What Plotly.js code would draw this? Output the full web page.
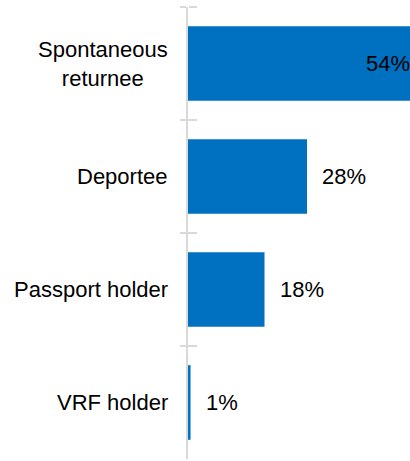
<!DOCTYPE html>
<html>
<head>
<meta charset="utf-8">
<script src="https://cdn.plot.ly/plotly-3.0.1.min.js"></script>
<style>
html, body { margin: 0; padding: 0; overflow: hidden; background: #fff; }
#chart { width: 426px; height: 461px; }
</style>
</head>
<body>
<div id="chart"></div>
<script>
const categories = ["Spontaneous<br>returnee", "Deportee", "Passport holder", "VRF holder"];
const shares = [54, 28, 18, 0.6];
const shareLabels = shares.map(v => Math.round(v) + "%");

const FONT = "Liberation Sans, Arial, sans-serif";
const BLUE = "#0070C0";
const FS = 22;
const AXIS_GREY = "#d9d9d9";

const trace = {
  type: "bar",
  orientation: "h",
  x: shares,
  y: categories,
  marker: { color: BLUE, line: { width: 0 } },
  hoverinfo: "skip",
  cliponaxis: false
};

const annotations = [];
categories.forEach((c, i) => {
  annotations.push({
    xref: "paper", yref: "y", x: 0, y: c,
    xanchor: "right", yanchor: "middle",
    xshift: -18, text: c, showarrow: false, align: "center",
    font: { family: FONT, size: FS, color: "#000" }
  });
  const inside = shares[i] > 50;
  annotations.push({
    xref: "x", yref: "y", x: shares[i], y: c,
    xanchor: inside ? "right" : "left", yanchor: "middle",
    xshift: inside ? -6 : 13, text: shareLabels[i], showarrow: false,
    font: { family: FONT, size: FS, color: "#000" }
  });
});

const catAxis = {
  type: "category", categoryarray: categories, categoryorder: "array",
  range: [3.5, -0.5], autorange: false,
  showticklabels: false, showgrid: false, zeroline: false,
  tickson: "boundaries", tickwidth: 2, tickcolor: AXIS_GREY,
  fixedrange: true
};

const layout = {
  width: 426, height: 461,
  margin: { l: 188, r: 0, t: 7, b: 2, pad: 0 },
  paper_bgcolor: "#fff", plot_bgcolor: "#fff",
  showlegend: false,
  bargap: 0.34,
  font: { family: FONT, size: FS, color: "#000" },
  xaxis: { range: [0, 56], visible: false, fixedrange: true },
  yaxis: Object.assign({}, catAxis, {
    showline: true, linecolor: AXIS_GREY, linewidth: 2,
    ticks: "outside", ticklen: 6
  }),
  yaxis2: Object.assign({}, catAxis, {
    overlaying: "y", side: "left", anchor: "x", showline: false,
    ticks: "inside", ticklen: 8
  }),
  yaxis3: Object.assign({}, catAxis, {
    overlaying: "y", side: "right", anchor: "free", position: 0, showline: false,
    ticks: "outside", ticklen: 8
  }),
  annotations: annotations
};

const helper2 = { type: "bar", orientation: "h", x: [0, 0, 0, 0], y: categories, yaxis: "y2", hoverinfo: "skip", marker: { color: "rgba(0,0,0,0)" } };
const helper3 = { type: "bar", orientation: "h", x: [0, 0, 0, 0], y: categories, yaxis: "y3", hoverinfo: "skip", marker: { color: "rgba(0,0,0,0)" } };

Plotly.newPlot("chart", [trace, helper2, helper3], layout, { staticPlot: true, displayModeBar: false });
</script>
</body>
</html>
